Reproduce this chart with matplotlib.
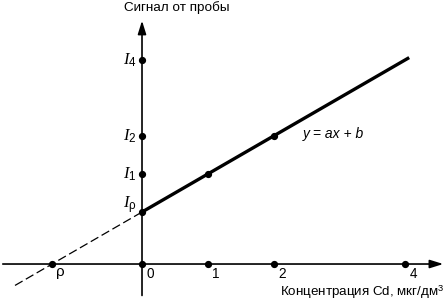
import matplotlib.pyplot as plt
import numpy as np

plt.rcParams['font.family'] = ['Liberation Sans', 'DejaVu Sans']
plt.rcParams['mathtext.fontset'] = 'custom'
plt.rcParams['mathtext.it'] = 'Liberation Serif:italic'
plt.rcParams['mathtext.rm'] = 'Liberation Sans'

# calibration line y = a*x + b
a = 0.578
b = 0.79
rho = -b / a

conc = [0, 1, 2, 4]                     # points on x axis
conc_labels = ['0', '1', '2', '4']
level_names = [r'$\mathit{I}_\mathrm{\rho}$', r'$\mathit{I}_\mathrm{1}$',
               r'$\mathit{I}_\mathrm{2}$', r'$\mathit{I}_\mathrm{4}$']
level_x = [0, 1, 2, 4]                  # concentrations matching each level
line_end = 4.06
dash_start = -1.93

fig = plt.figure(figsize=(4.48, 3.01), dpi=100)
ax = fig.add_axes([0, 0, 1, 1])
ax.set_xlim(-2.158, 4.650)
ax.set_ylim(-0.562, 4.012)
ax.axis('off')

# axes with arrows
ax.annotate('', xy=(4.62, 0), xytext=(-2.158, 0),
            arrowprops=dict(arrowstyle='-|>,head_length=0.8,head_width=0.25', lw=1.2, color='black'))
ax.annotate('', xy=(0, 3.74), xytext=(0, -0.52),
            arrowprops=dict(arrowstyle='-|>,head_length=0.8,head_width=0.25', lw=1.2, color='black'))

# line and extrapolation
xs = np.array([0, line_end])
ax.plot(xs, a * xs + b, color='black', lw=2.4, solid_capstyle='butt')
xd = np.array([dash_start, 0])
ax.plot(xd, a * xd + b, color='black', lw=0.9, dashes=(7, 3))

levels = [a * x + b for x in level_x]

# dots
ax.plot([rho] + conc, [0] * (len(conc) + 1), 'o', color='black', ms=4.2)
ax.plot([0] * len(levels), levels, 'o', color='black', ms=4.2)
ax.plot([1, 2], [a * 1 + b, a * 2 + b], 'o', color='black', ms=4.2)

# x labels
for c, lab in zip(conc, conc_labels):
    ax.text(c + 0.07, -0.155, lab, fontsize=9.8, ha='left', va='center')
ax.text(rho + 0.05, -0.15, r'$\mathrm{\rho}$', fontsize=11, ha='left', va='center')

# y labels
offs = [0.1, 0, 0, 0]
for lv, name, o in zip(levels, level_names, offs):
    ax.text(-0.08, lv + o, name, fontsize=12, ha='right', va='center')

ax.text(2.45, 1.97, 'y = ax + b', fontsize=10, style='italic', ha='left', va='center')
ax.text(-0.27, 3.9, 'Сигнал от пробы', fontsize=9.7, ha='left', va='center')
ax.text(4.59, -0.435, 'Концентрация Cd, мкг/дм$^3$', fontsize=9.6, ha='right', va='center')

fig.savefig('out.png', dpi=100)
